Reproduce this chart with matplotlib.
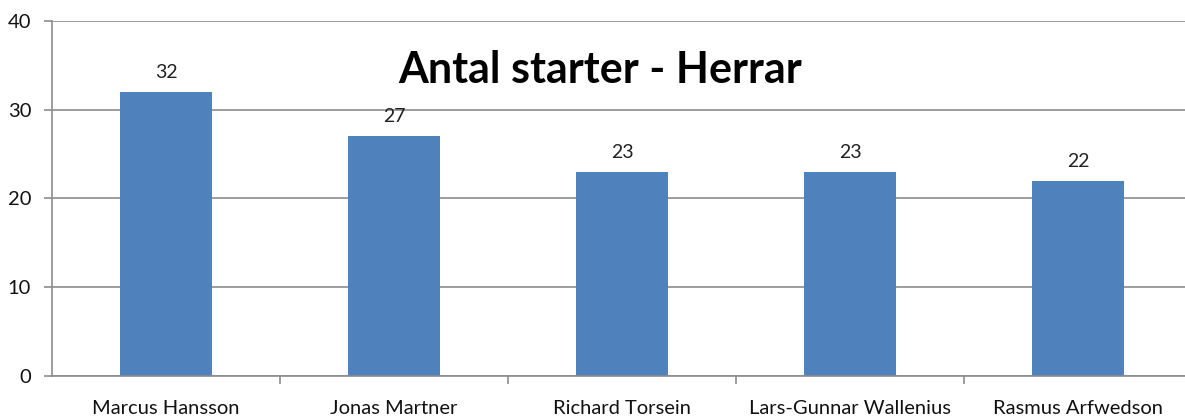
import numpy as np
import matplotlib.pyplot as plt

# data
names = ["Marcus Hansson", "Jonas Martner", "Richard Torsein",
         "Lars-Gunnar Wallenius", "Rasmus Arfwedson"]
starts = [32, 27, 23, 23, 22]
y_ticks = [0, 10, 20, 30, 40]

plt.rcParams["font.family"] = ["Lato", "DejaVu Sans"]

fig = plt.figure(figsize=(11.85, 4.17), dpi=100)
W, H = 1185, 417
# plot area runs past the right edge, like the cropped original
ax = fig.add_axes([52 / W, 41 / H, 1140 / W, 355 / H])

x = np.arange(len(names))
ax.bar(x, starts, width=0.4, color="#4F81BD", zorder=3)

for xi, v in zip(x, starts):
    ax.annotate(str(v), (xi, v), xytext=(0, 8), textcoords="offset points",
                ha="center", va="bottom", fontsize=14, color="#222222")

ax.set_xlim(-0.5, len(names) - 0.5)
ax.set_ylim(0, 40)
ax.set_yticks(y_ticks)
ax.grid(axis="y", color="#8c8c8c", linewidth=1.2, zorder=0)

ax.set_xticks(x)
ax.set_xticklabels(names, fontsize=14.5, color="#111111")
ax.tick_params(axis="x", which="major", length=0, pad=17)
ax.set_xticks(np.arange(0.5, len(names) - 0.5, 1), minor=True)
ax.tick_params(axis="x", which="minor", length=6, width=1.2, color="#8c8c8c")
ax.tick_params(axis="y", length=6, width=1.2, color="#8c8c8c", pad=9,
               labelsize=14.5, labelcolor="#111111")

for s in ["top", "right"]:
    ax.spines[s].set_visible(False)
for s in ["left", "bottom"]:
    ax.spines[s].set_color("#8c8c8c")
    ax.spines[s].set_linewidth(1.2)
    ax.spines[s].set_zorder(4)

fig.text(600 / W, 1 - 70 / H, "Antal starter - Herrar", fontsize=31,
         fontweight="bold", ha="center", va="center", color="#000000")

fig.savefig("out.png", dpi=100)
